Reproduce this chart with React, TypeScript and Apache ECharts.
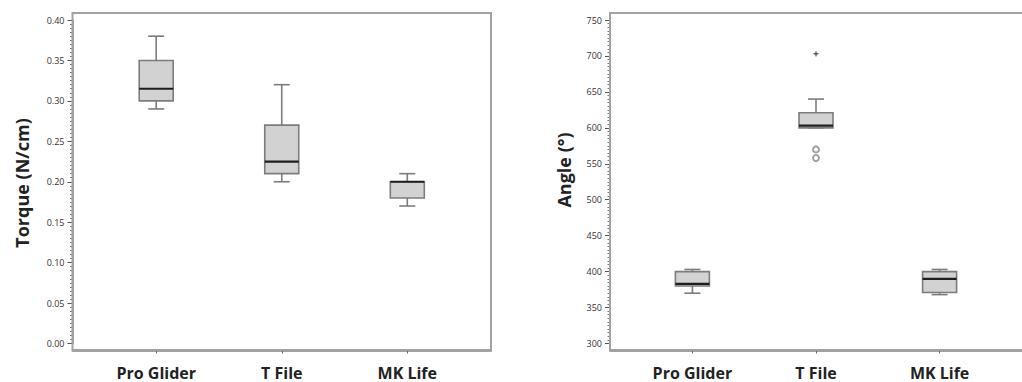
import React, { useEffect, useRef } from "react";
import * as echarts from "echarts";

const categories = ["Pro Glider", "T File", "MK Life"];
// [min, Q1, median, Q3, max]
const torqueStats = [
  [0.29, 0.3, 0.315, 0.35, 0.38],
  [0.2, 0.21, 0.225, 0.27, 0.32],
  [0.17, 0.18, 0.2, 0.2, 0.21],
];
const angleStats = [
  [370, 380, 383, 400, 403],
  [600, 600, 603, 621, 640],
  [368, 371, 390, 400, 403],
];
// [category index, value]
const angleOutliers = [
  [1, 570],
  [1, 558],
];
const angleExtremes = [[1, 703]];

const torqueAxis = { min: 0, max: 0.4, interval: 0.05, name: "Torque (N/cm)" };
const angleAxis = { min: 300, max: 750, interval: 50, name: "Angle (°)" };

const catPos = (i: number) => 2 + 3 * i;
const catTicks = categories.map((_, i) => catPos(i));

const FONT = "'Open Sans', 'Liberation Sans', sans-serif";
const FRAME = "#a2a2a2";

function renderBox(params: any, api: any) {
  const x = api.value(0);
  const mn = api.value(1);
  const q1 = api.value(2);
  const md = api.value(3);
  const q3 = api.value(4);
  const mx = api.value(5);
  const pMin = api.coord([x, mn]);
  const pQ1 = api.coord([x, q1]);
  const pMed = api.coord([x, md]);
  const pQ3 = api.coord([x, q3]);
  const pMax = api.coord([x, mx]);
  const cx = pMin[0];
  const bw = 34;
  const cw = 16;
  const grey = "#7c7c7c";
  const lw = 1.6;
  return {
    type: "group",
    children: [
      { type: "line", shape: { x1: cx, y1: pQ3[1], x2: cx, y2: pMax[1] }, style: { stroke: grey, lineWidth: lw } },
      { type: "line", shape: { x1: cx, y1: pQ1[1], x2: cx, y2: pMin[1] }, style: { stroke: grey, lineWidth: lw } },
      { type: "line", shape: { x1: cx - cw / 2, y1: pMax[1], x2: cx + cw / 2, y2: pMax[1] }, style: { stroke: grey, lineWidth: lw } },
      { type: "line", shape: { x1: cx - cw / 2, y1: pMin[1], x2: cx + cw / 2, y2: pMin[1] }, style: { stroke: grey, lineWidth: lw } },
      {
        type: "rect",
        shape: { x: cx - bw / 2, y: pQ3[1], width: bw, height: Math.max(pQ1[1] - pQ3[1], 0.5) },
        style: { fill: "#d2d2d2", stroke: grey, lineWidth: lw },
      },
      { type: "line", shape: { x1: cx - bw / 2, y1: pMed[1], x2: cx + bw / 2, y2: pMed[1] }, style: { stroke: "#1e1e1e", lineWidth: 2.2 } },
    ],
  };
}

function yAxisCfg(gridIndex: number, ax: any) {
  return {
    type: "value",
    gridIndex,
    min: ax.min,
    max: ax.max,
    interval: ax.interval,
    axisLine: { show: true, lineStyle: { color: FRAME, width: 2 } },
    splitLine: { show: false },
    axisTick: { show: true, length: 5, lineStyle: { color: "#555", width: 1 } },
    minorTick: { show: true, splitNumber: 10, length: 2.5, lineStyle: { color: "#777", width: 1 } },
    axisLabel: {
      fontSize: 9,
      color: "#333",
      fontFamily: FONT,
      margin: 8,
      formatter: (v: number) => (ax.interval < 1 ? v.toFixed(2) : String(v)),
    },
  };
}

function xAxisCfg(gridIndex: number) {
  return {
    type: "value",
    gridIndex,
    min: 0,
    max: 10,
    position: "bottom",
    offset: 7,
    axisLine: { show: true, onZero: false, lineStyle: { color: FRAME, width: 2 } },
    splitLine: { show: false },
    axisTick: { show: true, length: 3, customValues: catTicks, lineStyle: { color: "#666" } },
    axisLabel: {
      customValues: catTicks,
      formatter: (v: number) => categories[Math.round((v - 2) / 3)] ?? "",
      fontSize: 16,
      fontWeight: "bold",
      color: "#222",
      fontFamily: FONT,
      margin: 14,
    },
  };
}

export default function App() {
  const ref = useRef<HTMLDivElement>(null);
  useEffect(() => {
    if (!ref.current) return;
    const chart = echarts.init(ref.current, undefined, { renderer: "svg" });
    const option: any = {
      animation: false,
      backgroundColor: "#ffffff",
      grid: [
        { left: 72.5, top: 20, width: 418.5, height: 323.5 },
        { left: 610, top: 20, width: 423, height: 323.5 },
      ],
      xAxis: [xAxisCfg(0), xAxisCfg(1)],
      yAxis: [yAxisCfg(0, torqueAxis), yAxisCfg(1, angleAxis)],
      graphic: [
        {
          type: "rect",
          shape: { x: 72.5, y: 13, width: 418.5, height: 337 },
          style: { fill: "none", stroke: FRAME, lineWidth: 2 },
          z: 1,
        },
        {
          type: "rect",
          shape: { x: 610, y: 13, width: 423, height: 337 },
          style: { fill: "none", stroke: FRAME, lineWidth: 2 },
          z: 1,
        },
        {
          type: "text",
          x: 22,
          y: 183,
          rotation: Math.PI / 2,
          style: {
            text: torqueAxis.name,
            fontSize: 18,
            fontWeight: "bold",
            fontFamily: FONT,
            fill: "#222",
            align: "center",
            verticalAlign: "middle",
          },
        },
        {
          type: "text",
          x: 564,
          y: 170,
          rotation: Math.PI / 2,
          style: {
            text: angleAxis.name,
            fontSize: 18,
            fontWeight: "bold",
            fontFamily: FONT,
            fill: "#222",
            align: "center",
            verticalAlign: "middle",
          },
        },
      ],
      series: [
        {
          type: "custom",
          xAxisIndex: 0,
          yAxisIndex: 0,
          renderItem: renderBox,
          encode: { x: 0, y: [1, 2, 3, 4, 5] },
          data: torqueStats.map((s, i) => [catPos(i), ...s]),
          z: 3,
        },
        {
          type: "custom",
          xAxisIndex: 1,
          yAxisIndex: 1,
          renderItem: renderBox,
          encode: { x: 0, y: [1, 2, 3, 4, 5] },
          data: angleStats.map((s, i) => [catPos(i), ...s]),
          z: 3,
        },
        {
          type: "scatter",
          xAxisIndex: 1,
          yAxisIndex: 1,
          symbol: "emptyCircle",
          symbolSize: 6,
          itemStyle: { color: "#8a8a8a", borderWidth: 1.2 },
          data: angleOutliers.map(([i, v]) => [catPos(i), v]),
          z: 4,
        },
        {
          type: "scatter",
          xAxisIndex: 1,
          yAxisIndex: 1,
          symbol: "path://M5,0 L6.2,3.8 L10,5 L6.2,6.2 L5,10 L3.8,6.2 L0,5 L3.8,3.8 Z",
          symbolSize: 7,
          itemStyle: { color: "#333" },
          data: angleExtremes.map(([i, v]) => [catPos(i), v]),
          z: 4,
        },
      ],
    };
    chart.setOption(option);
    return () => chart.dispose();
  }, []);
  return (
    <div
      ref={ref}
      style={{ position: "fixed", left: 0, top: 0, width: 1022, height: 382, background: "#fff" }}
    />
  );
}
